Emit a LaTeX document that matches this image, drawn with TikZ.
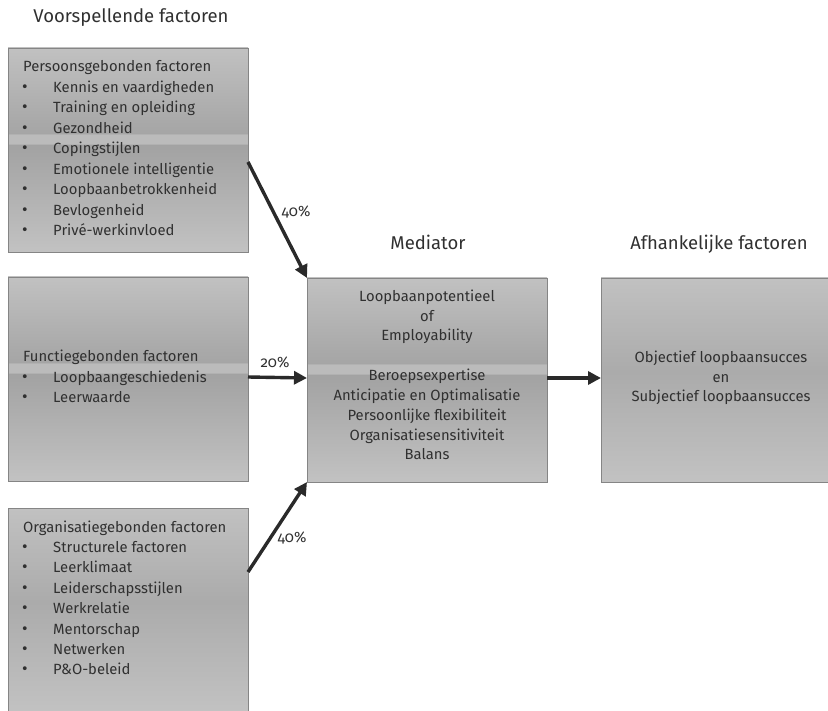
\documentclass[tikz,border=0pt]{standalone}
\usepackage{fontspec}
\setmainfont{Fira Sans}[Numbers=OldStyle]
\usetikzlibrary{arrows.meta,shadows}
\definecolor{bxT}{HTML}{C1C1C1}
\definecolor{bxA}{HTML}{A5A5A5}
\definecolor{bxB}{HTML}{BBBBBB}
\definecolor{bxC}{HTML}{A2A2A2}
\definecolor{bxD}{HTML}{C2C2C2}
\definecolor{bxE}{HTML}{ABABAB}
\definecolor{boxline}{HTML}{858585}
\definecolor{txtc}{HTML}{303030}
\definecolor{arrc}{HTML}{2A2A2A}
\pgfdeclareverticalshading{boxshade}{100bp}{color(0bp)=(bxD); color(25bp)=(bxD); color(51.4bp)=(bxC); color(51.5bp)=(bxB); color(53.9bp)=(bxB); color(54bp)=(bxA); color(75bp)=(bxT); color(100bp)=(bxT)}
\pgfdeclareverticalshading{plainshade}{100bp}{color(0bp)=(bxD); color(25bp)=(bxD); color(52bp)=(bxE); color(75bp)=(bxT); color(100bp)=(bxT)}
\begin{document}
\begin{tikzpicture}[x=1pt,y=-1pt,
  box/.style={draw=boxline, line width=0.8pt, shade, shading=boxshade, minimum width=240pt, minimum height=204pt, anchor=north west, inner sep=0pt, outer sep=0pt,
    drop shadow={shadow xshift=1.3pt, shadow yshift=-1.3pt, fill=black!55, opacity=0.6}},
  lbl/.style={text=txtc, font=\fontsize{14.8}{17}\selectfont, inner sep=0pt},
  bul/.style={text=txtc, font=\fontsize{17}{18}\selectfont, inner sep=0pt},
  head/.style={text=txtc, font=\fontsize{18.5}{22}\selectfont, inner sep=0pt, anchor=base},
  pct/.style={text=txtc, font=\fontsize{15}{17}\selectfont, inner sep=0pt},
  conn/.style={draw=arrc, line width=3.4pt, -{Triangle[length=13pt,width=13pt]}}]
\useasboundingbox (0,0) rectangle (828,711);
\clip (0,0) rectangle (828,711);

% headings
\node[head] (h1) at (131,23) {Voorspellende factoren};
\node[head] (h2) at (428,250) {Mediator};
\node[head] (h3) at (719,250) {Afhankelijke factoren};

% boxes
\node[box] (box1) at (8,48) {};
\node[box] (box2) at (8,277) {};
\node[box, shading=plainshade] (box3) at (8,508) {};
\node[box] (med) at (307,278) {};
\node[box, shading=plainshade] (dep) at (601,278) {};

% box 1
\node[lbl, anchor=base west] (p0) at (23,72) {Persoonsgebonden factoren};
\foreach \t [count=\i] in {Kennis en vaardigheden, Training en opleiding, Gezondheid, Copingstijlen, Emotionele intelligentie, Loopbaanbetrokkenheid, Bevlogenheid, Privé-werkinvloed} {
  \node[bul, anchor=base] (pb\i) at (25,72+20.5*\i) {•};
  \node[lbl, anchor=base west] (p\i) at (53,72+20.5*\i) {\t};
}

% box 2
\node[lbl, anchor=base west] (f0) at (23,362) {Functiegebonden factoren};
\foreach \t [count=\i] in {Loopbaangeschiedenis, Leerwaarde} {
  \node[bul, anchor=base] (fb\i) at (25,362+20.5*\i) {•};
  \node[lbl, anchor=base west] (f\i) at (53,362+20.5*\i) {\t};
}

% box 3
\node[lbl, anchor=base west] (o0) at (23,532) {Organisatiegebonden factoren};
\foreach \t [count=\i] in {Structurele factoren, Leerklimaat, Leiderschapsstijlen, Werkrelatie, Mentorschap, Netwerken, P\&O-beleid} {
  \node[bul, anchor=base] (ob\i) at (25,532+20.4*\i) {•};
  \node[lbl, anchor=base west] (o\i) at (53,532+20.4*\i) {\t};
}

% mediator text
\foreach \t/\y [count=\i] in {Loopbaanpotentieel/302, of/321.5, Employability/341, Beroepsexpertise/381, Anticipatie en Optimalisatie/401, Persoonlijke flexibiliteit/420.5, Organisatiesensitiviteit/440, Balans/460} {
  \node[lbl, anchor=base] (m\i) at (427,\y) {\t};
}

% dependent text
\node[lbl, anchor=base] (d1) at (721,363) {Objectief loopbaansucces};
\node[lbl, anchor=base] (d2) at (721,382.5) {en};
\node[lbl, anchor=base] (d3) at (721,402) {Subjectief loopbaansucces};

% connectors
\draw[conn] ([yshift=-12pt]box1.east) -- (med.north west);
\draw[conn] ([yshift=2pt]box2.east) -- ([yshift=2pt]med.west);
\draw[conn] ([yshift=38pt]box3.east) -- (med.south west);
\draw[conn] ([yshift=2pt]med.east) -- ([yshift=2pt]dep.west);

% percentages
\node[pct] (l1) at (296,212) {40\%};
\node[pct] (l2) at (275,362) {20\%};
\node[pct] (l3) at (292,538) {40\%};
\end{tikzpicture}
\end{document}
